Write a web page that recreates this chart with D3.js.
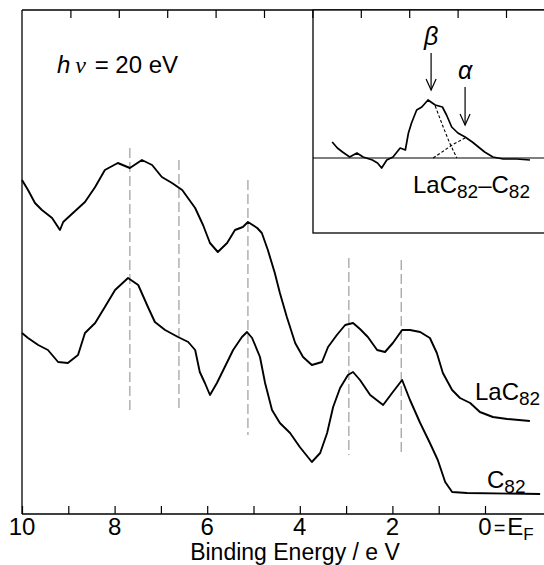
<!DOCTYPE html>
<html>
<head>
<meta charset="utf-8">
<script src="https://cdn.jsdelivr.net/npm/d3@7/dist/d3.min.js"></script>
<style>
body { margin: 0; background: #fff; }
text { font-family: "Liberation Sans", Arial, sans-serif; fill: #000; }
</style>
</head>
<body>
<script>
// binding energy (eV) / intensity (arb. units)
var lacE = [10.00,9.87,9.72,9.57,9.35,9.18,9.11,8.90,8.64,8.42,8.21,7.93,7.67,7.41,7.19,6.98,6.76,6.54,6.26,6.09,5.94,5.77,5.57,5.40,5.23,5.12,4.92,4.82,4.69,4.54,4.43,4.28,4.10,3.93,3.74,3.52,3.39,3.20,3.02,2.85,2.70,2.53,2.33,2.16,1.99,1.79,1.62,1.40,1.19,1.04,0.91,0.71,0.54,0.32,0.11,-0.17,-0.48,-0.97];
var lacI = [334,324,311,304,296,284,292,301,312,327,344,351,346,354,349,337,331,324,306,289,271,262,271,284,287,292,286,281,264,241,221,197,171,157,149,152,167,179,189,191,185,177,164,162,171,184,184,182,176,161,141,124,116,111,102,97,95,93];

var c82E = [10.00,9.87,9.65,9.44,9.22,9.01,8.79,8.64,8.42,8.21,7.99,7.71,7.49,7.28,7.13,6.91,6.63,6.41,6.26,6.16,6.05,5.94,5.79,5.62,5.44,5.25,5.14,5.03,4.86,4.75,4.60,4.43,4.21,4.00,3.74,3.56,3.41,3.28,3.13,2.96,2.85,2.70,2.48,2.20,1.99,1.79,1.62,1.40,1.19,1.02,0.86,0.71,0.39,-1.19];
var c82I = [181,176,169,164,152,151,159,181,191,207,224,236,229,207,192,184,177,172,164,142,131,119,131,147,164,177,182,176,157,131,104,91,81,67,52,61,81,107,126,139,142,134,119,109,122,134,114,91,71,54,32,22,21,20];

// inset: LaC82 - C82 difference spectrum and its two components
var diffE = [1.93,1.88,1.83,1.76,1.69,1.63,1.54,1.49,1.45,1.40,1.34,1.27,1.22,1.19,1.16,1.11,1.06,1.00,0.93,0.86,0.82,0.77,0.71,0.64,0.57,0.51,0.45,0.37,0.27,0.14,0.01];
var diffI = [16,10,6,1,5,1,-2,-5,-10,-2,1,10,8,25,35,48,51,58,53,51,43,31,25,21,16,11,6,1,-1,-1,-2];
var betaE = [0.93,0.86,0.79,0.72];
var betaI = [52,33,15,0];
var alphaE = [0.95,0.85,0.75,0.64];
var alphaI = [0,7,14,20];

var peakE = [7.67,6.61,5.12,2.94,1.81];
var peakLo = [102,106,79,59,59];
var peakHi = [366,354,334,256,254];

var bottomTicks = [10,9,8,7,6,5,4,3,2,1,0];
var bottomLabels = ["10","8","6","4","2"];
var topTicks = [1,2,3,4,5,6,7,8,9,10];

var W = 544, H = 565;
var svg = d3.select("body").append("svg").attr("width", W).attr("height", H);

var x = d3.scaleLinear().domain([10, 0]).range([22, 485]);
var y = d3.scaleLinear().domain([0, 504]).range([514, 10]);
var xTop = d3.scaleLinear().domain([0, 10]).range([22, 506]);

var line = d3.line()
    .x(function(d){ return x(d[0]); })
    .y(function(d){ return y(d[1]); });

// frame
svg.append("line").attr("x1",22).attr("x2",22).attr("y1",10).attr("y2",514)
   .attr("stroke","#000").attr("stroke-width",1.3);
svg.append("line").attr("x1",22).attr("x2",W+5).attr("y1",514).attr("y2",514)
   .attr("stroke","#000").attr("stroke-width",1.3);
svg.append("line").attr("x1",22).attr("x2",W+5).attr("y1",10).attr("y2",10)
   .attr("stroke","#000").attr("stroke-width",1.3);

// bottom axis
var xAxis = d3.axisBottom(x).tickValues(bottomTicks).tickSizeInner(-8).tickSizeOuter(0).tickFormat("");
var gx = svg.append("g").attr("transform","translate(0,514)").call(xAxis);
gx.select(".domain").remove();
gx.selectAll(".tick line").attr("stroke","#000").attr("stroke-width",1.2);

svg.selectAll("text.xlab").data(bottomLabels).enter().append("text")
    .attr("class","xlab")
    .attr("x", function(d){ return x(+d); })
    .attr("y", 535)
    .attr("text-anchor","middle")
    .attr("font-size", 24)
    .text(function(d){ return d; });

var zeroLab = svg.append("text").attr("x", x(0) - 6.7).attr("y", 535).attr("font-size", 24);
zeroLab.append("tspan").text("0");
zeroLab.append("tspan").attr("font-size", 20).attr("dx", 2).text("=");
zeroLab.append("tspan").attr("dx", 2).text("E");
zeroLab.append("tspan").attr("font-size", 17).attr("dy", 5).text("F");

svg.append("text").attr("x", 295).attr("y", 560).attr("text-anchor","middle")
   .attr("font-size", 23).text("Binding Energy / e V");

// top ticks
var topAxis = d3.axisTop(xTop).tickValues(topTicks).tickSizeInner(-8).tickSizeOuter(0).tickFormat("");
var gt = svg.append("g").attr("transform","translate(0,10)").call(topAxis);
gt.select(".domain").remove();
gt.selectAll(".tick line").attr("stroke","#000").attr("stroke-width",1.2);

// dashed peak markers
svg.selectAll("line.peak").data(peakE).enter().append("line")
    .attr("class","peak")
    .attr("x1", function(d){ return x(d); })
    .attr("x2", function(d){ return x(d); })
    .attr("y1", function(d,i){ return y(peakHi[i]); })
    .attr("y2", function(d,i){ return y(peakLo[i]); })
    .attr("stroke","#888").attr("stroke-width",1).attr("stroke-dasharray","10,4");

// spectra
svg.append("path").attr("d", line(d3.zip(lacE, lacI)))
   .attr("fill","none").attr("stroke","#000").attr("stroke-width",1.9).attr("stroke-linejoin","round");
svg.append("path").attr("d", line(d3.zip(c82E, c82I)))
   .attr("fill","none").attr("stroke","#000").attr("stroke-width",1.9).attr("stroke-linejoin","round");

// labels
var t1 = svg.append("text").attr("x", 475).attr("y", 400).attr("font-size", 24);
t1.append("tspan").text("LaC");
t1.append("tspan").attr("font-size", 19).attr("dy", 5).text("82");
var t2 = svg.append("text").attr("x", 487).attr("y", 488).attr("font-size", 24);
t2.append("tspan").text("C");
t2.append("tspan").attr("font-size", 19).attr("dy", 5).text("82");

var hv = svg.append("text").attr("x", 57).attr("y", 73).attr("font-size", 24);
hv.append("tspan").attr("font-style","italic").text("h");
hv.append("tspan").attr("font-family","'Liberation Serif',serif").attr("font-style","italic").attr("dx", 5).text("ν");
hv.append("tspan").attr("dx", 2).text(" = 20 eV");

// inset
var ix = d3.scaleLinear().domain([2, 0]).range([325, 531]);
var iy = d3.scaleLinear().domain([0, 60]).range([158, 98]);
var iline = d3.line()
    .x(function(d){ return ix(d[0]); })
    .y(function(d){ return iy(d[1]); });

svg.append("rect").attr("x", 313).attr("y", 10).attr("width", W).attr("height", 223)
   .attr("fill","#fff").attr("stroke","#000").attr("stroke-width",1.3);
gt.raise();
svg.append("line").attr("x1", 313).attr("x2", W+5).attr("y1", iy(0)).attr("y2", iy(0))
   .attr("stroke","#000").attr("stroke-width",1.2);
svg.append("path").attr("d", iline(d3.zip(diffE, diffI)))
   .attr("fill","none").attr("stroke","#000").attr("stroke-width",1.7).attr("stroke-linejoin","round");
svg.append("path").attr("d", iline(d3.zip(betaE, betaI)))
   .attr("fill","none").attr("stroke","#000").attr("stroke-width",1.1).attr("stroke-dasharray","3,2");
svg.append("path").attr("d", iline(d3.zip(alphaE, alphaI)))
   .attr("fill","none").attr("stroke","#000").attr("stroke-width",1.1).attr("stroke-dasharray","3,2");

// arrows for the alpha and beta components
var arrows = [{e: 0.97, y0: 53, y1: 90, lab: "β", ly: 45}, {e: 0.64, y0: 87, y1: 125, lab: "α", ly: 79}];
arrows.forEach(function(a){
  var ax = ix(a.e);
  svg.append("line").attr("x1", ax).attr("x2", ax).attr("y1", a.y0).attr("y2", a.y1)
     .attr("stroke","#000").attr("stroke-width",1.2);
  svg.append("path").attr("d", "M" + (ax-5) + "," + (a.y1-11) + "L" + ax + "," + a.y1 + "L" + (ax+5) + "," + (a.y1-11))
     .attr("fill","none").attr("stroke","#000").attr("stroke-width",1.2);
  svg.append("text").attr("x", ax).attr("y", a.ly).attr("text-anchor","middle")
     .attr("font-family","'Liberation Serif',serif").attr("font-style","italic").attr("font-size", 25)
     .text(a.lab);
});

var t3 = svg.append("text").attr("x", 413).attr("y", 193).attr("font-size", 24);
t3.append("tspan").text("LaC");
t3.append("tspan").attr("font-size", 19).attr("dy", 5).text("82");
t3.append("tspan").attr("dy", -5).text("–C");
t3.append("tspan").attr("font-size", 19).attr("dy", 5).text("82");
</script>
</body>
</html>
